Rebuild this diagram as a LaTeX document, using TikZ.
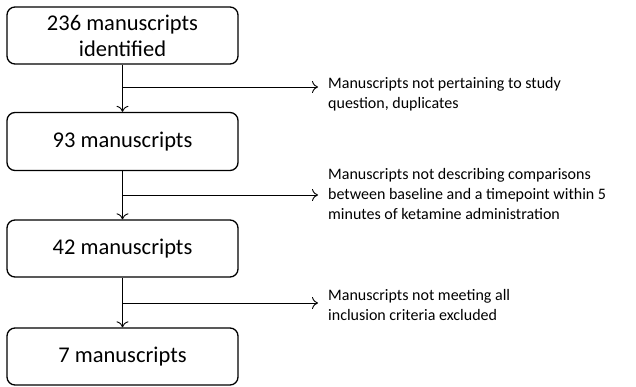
\documentclass[tikz,border=0pt]{standalone}
\usepackage{fontspec}
\setmainfont{Carlito}
\usetikzlibrary{arrows.meta}
\begin{document}
\begin{tikzpicture}[x=1pt,y=-1pt,
  box/.style={draw,line width=1.3pt,rounded corners=8pt,minimum width=231pt,inner sep=0pt,align=center,font=\fontsize{22.5}{26}\selectfont},
  note/.style={anchor=west,align=left,inner sep=0pt,font=\fontsize{16}{20}\selectfont},
  arr/.style={line width=0.9pt,-{To[length=6pt,width=12pt]}}]
\useasboundingbox (0,0) rectangle (636,387);
\node[box,minimum height=57pt] (b1) at (122.5,35.5) {236 manuscripts\\identified};
\node[box,minimum height=58pt] (b2) at (122.5,141.5) {93 manuscripts};
\node[box,minimum height=57pt] (b3) at (122.5,248.5) {42 manuscripts};
\node[box,minimum height=57pt] (b4) at (122.5,356.5) {7 manuscripts};
\coordinate (j1) at (122.5,87);
\coordinate (j2) at (122.5,195);
\coordinate (j3) at (122.5,303);
\coordinate (e1) at (318,87);
\coordinate (e2) at (318,195);
\coordinate (e3) at (318,303);
\draw[arr] (b1.south) -- (b2.north);
\draw[arr] (b2.south) -- (b3.north);
\draw[arr] (b3.south) -- (b4.north);
\draw[arr] (j1) -- (e1);
\draw[arr] (j2) -- (e2);
\draw[arr] (j3) -- (e3);
\node[note] (n1) at (328,94) {Manuscripts not pertaining to study\\question, duplicates};
\node[note] (n2) at (328,194) {Manuscripts not describing comparisons\\between baseline and a timepoint within 5\\minutes of ketamine administration};
\node[note] (n3) at (328,305) {Manuscripts not meeting all\\inclusion criteria excluded};
\end{tikzpicture}
\end{document}
